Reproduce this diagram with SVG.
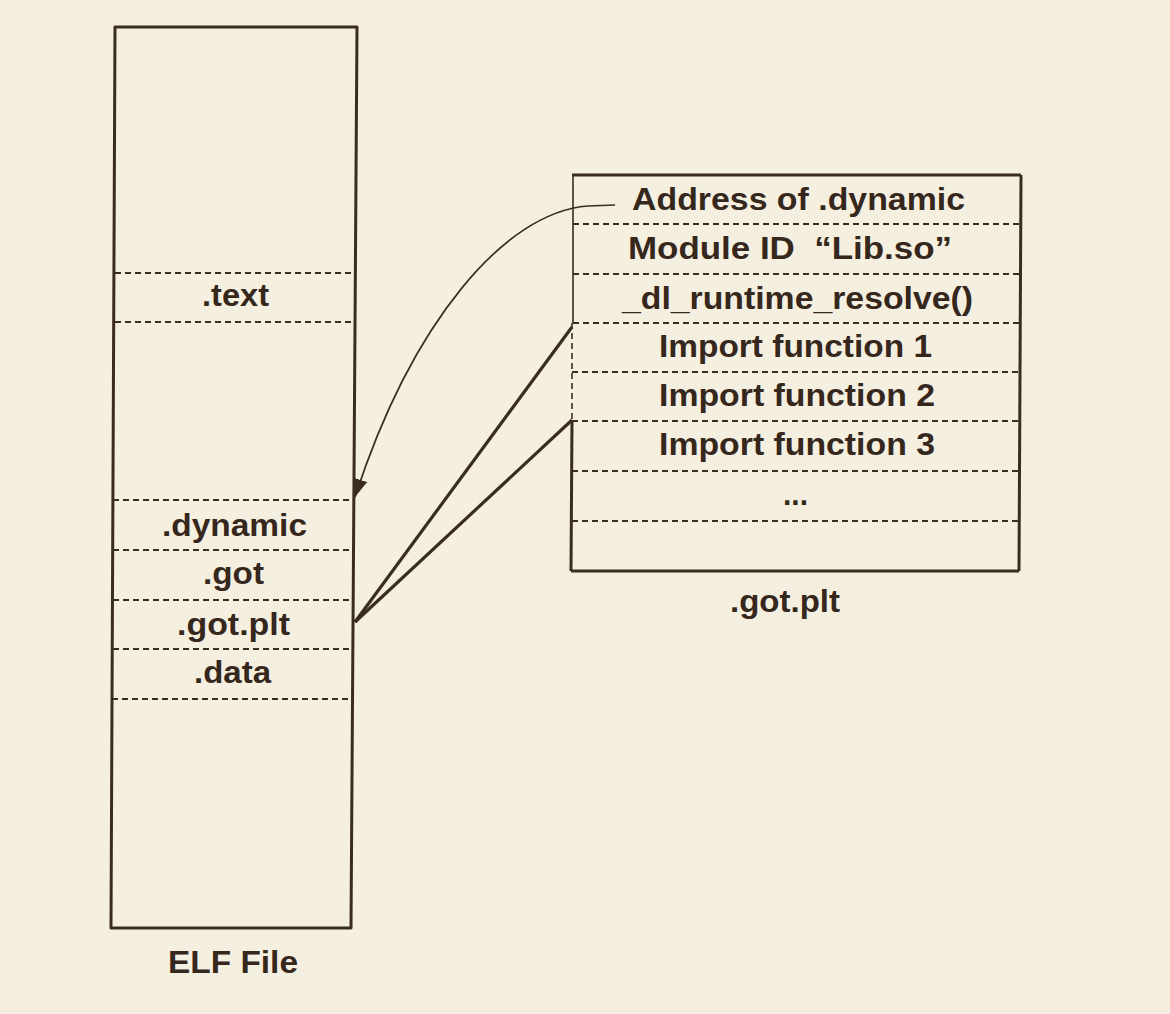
<svg xmlns="http://www.w3.org/2000/svg" width="1170" height="1014" viewBox="0 0 1170 1014">
<style>
.bg{fill:#f5efe0}
.box{fill:none;stroke:#3b2c20;stroke-width:3;stroke-linejoin:round}
.thin{fill:none;stroke:#3b2c20;stroke-width:1.6}
.dash{fill:none;stroke:#3b2c20;stroke-width:2;stroke-dasharray:6 4}
.lbl{font-family:"Liberation Sans",Arial,sans-serif;font-weight:bold;font-size:31px;fill:#35271c}
.conn{fill:none;stroke:#3b2c20;stroke-width:3.2}
.curve{fill:none;stroke:#3b2c20;stroke-width:1.7}
</style>
<defs>
<marker id="ah" markerUnits="userSpaceOnUse" markerWidth="20" markerHeight="14" refX="18" refY="7" orient="auto">
<path d="M0,0 L18,7 L0,14 Z" fill="#3b2c20"/>
</marker>
</defs>
<rect class="bg" x="0" y="0" width="1170" height="1014"/>

<g id="elf-file">
<path class="box" d="M115,27 L357,27 L351,928 L111,928 Z"/>
<line class="dash" x1="115" y1="273" x2="355" y2="273"/>
<line class="dash" x1="115" y1="322" x2="355" y2="322"/>
<line class="dash" x1="113" y1="500" x2="354" y2="500"/>
<line class="dash" x1="113" y1="550" x2="354" y2="550"/>
<line class="dash" x1="113" y1="600" x2="353" y2="600"/>
<line class="dash" x1="113" y1="649" x2="353" y2="649"/>
<line class="dash" x1="112" y1="699" x2="353" y2="699"/>
<text class="lbl" x="202" y="306" textLength="67" lengthAdjust="spacingAndGlyphs">.text</text>
<text class="lbl" x="162" y="536" textLength="145" lengthAdjust="spacingAndGlyphs">.dynamic</text>
<text class="lbl" x="203" y="584" textLength="61" lengthAdjust="spacingAndGlyphs">.got</text>
<text class="lbl" x="177" y="635" textLength="113" lengthAdjust="spacingAndGlyphs">.got.plt</text>
<text class="lbl" x="194" y="683" textLength="77" lengthAdjust="spacingAndGlyphs">.data</text>
<text class="lbl" x="168" y="973" textLength="130" lengthAdjust="spacingAndGlyphs">ELF File</text>
</g>

<g id="got-plt">
<line class="box" x1="572" y1="175" x2="1021" y2="175"/>
<line class="box" x1="1021" y1="175" x2="1019" y2="571"/>
<line class="box" x1="1019" y1="571" x2="571" y2="571"/>
<line class="box" x1="571" y1="571" x2="572" y2="421"/>
<line class="thin" x1="573" y1="175" x2="573" y2="323"/>
<line class="dash" x1="572" y1="323" x2="572" y2="421" style="stroke-width:1.6"/>
<line class="dash" x1="573" y1="224" x2="1021" y2="224"/>
<line class="dash" x1="573" y1="274" x2="1021" y2="274"/>
<line class="dash" x1="573" y1="323" x2="1021" y2="323"/>
<line class="dash" x1="572" y1="372" x2="1020" y2="372"/>
<line class="dash" x1="572" y1="421" x2="1020" y2="421"/>
<line class="dash" x1="572" y1="471" x2="1020" y2="471"/>
<line class="dash" x1="572" y1="521" x2="1020" y2="521"/>
<text class="lbl" x="632" y="210" textLength="333" lengthAdjust="spacingAndGlyphs">Address of .dynamic</text>
<text class="lbl" x="628" y="259" textLength="324" lengthAdjust="spacingAndGlyphs" style="white-space:pre">Module ID  “Lib.so”</text>
<text class="lbl" x="622" y="309" textLength="351" lengthAdjust="spacingAndGlyphs">_dl_runtime_resolve()</text>
<text class="lbl" x="659" y="357" textLength="273" lengthAdjust="spacingAndGlyphs">Import function 1</text>
<text class="lbl" x="659" y="406" textLength="276" lengthAdjust="spacingAndGlyphs">Import function 2</text>
<text class="lbl" x="659" y="455" textLength="276" lengthAdjust="spacingAndGlyphs">Import function 3</text>
<text class="lbl" x="783" y="505" textLength="25" lengthAdjust="spacingAndGlyphs">...</text>
<text class="lbl" x="730" y="612" textLength="110" lengthAdjust="spacingAndGlyphs">.got.plt</text>
</g>

<g id="connectors">
<path class="curve" d="M615,205 L588,206 C505,212 412,322 355,497" marker-end="url(#ah)"/>
<line class="conn" x1="572" y1="327" x2="355" y2="622"/>
<line class="conn" x1="572" y1="420" x2="355" y2="622"/>
</g>
</svg>
